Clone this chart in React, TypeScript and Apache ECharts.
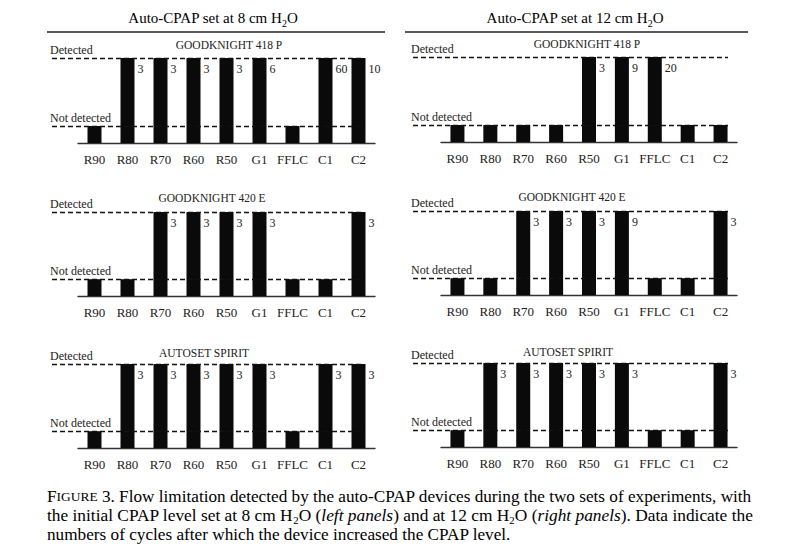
import React, { useEffect, useRef } from "react";
import * as echarts from "echarts";

const categories = ["R90", "R80", "R70", "R60", "R50", "G1", "FFLC", "C1", "C2"];
const levelNames = ["Detected", "Not detected"];
const levelValues = [1, 0.2];
const D = 1;
const N = 0.2;

const gk418At8 = [N, D, D, D, D, D, N, D, D];
const gk418At8Cycles = [null, 3, 3, 3, 3, 6, null, 60, 10];
const gk418At12 = [N, N, N, N, D, D, D, N, N];
const gk418At12Cycles = [null, null, null, null, 3, 9, 20, null, null];
const gk420At8 = [N, N, D, D, D, D, N, N, D];
const gk420At8Cycles = [null, null, 3, 3, 3, 3, null, null, 3];
const gk420At12 = [N, N, D, D, D, D, N, N, D];
const gk420At12Cycles = [null, null, 3, 3, 3, 9, null, null, 3];
const autosetAt8 = [N, D, D, D, D, D, N, D, D];
const autosetAt8Cycles = [null, 3, 3, 3, 3, 3, null, 3, 3];
const autosetAt12 = [N, D, D, D, D, D, N, N, D];
const autosetAt12Cycles = [null, 3, 3, 3, 3, 3, null, null, 3];

const deviceNames = ["GOODKNIGHT 418 P", "GOODKNIGHT 420 E", "AUTOSET SPIRIT"];

const panels = [
  { col: 0, row: 0, levels: gk418At8, cycles: gk418At8Cycles },
  { col: 1, row: 0, levels: gk418At12, cycles: gk418At12Cycles },
  { col: 0, row: 1, levels: gk420At8, cycles: gk420At8Cycles },
  { col: 1, row: 1, levels: gk420At12, cycles: gk420At12Cycles },
  { col: 0, row: 2, levels: autosetAt8, cycles: autosetAt8Cycles },
  { col: 1, row: 2, levels: autosetAt12, cycles: autosetAt12Cycles },
];

const SERIF = "Liberation Serif";
const INK = "#111";
const TXT = "#222";

// layout
const colLayout = [
  { barLeft: 78, barRight: 375, dashLeft: 52, dashRight: 364, dy: 0 },
  { barLeft: 441, barRight: 737, dashLeft: 413, dashRight: 728, dy: -1 },
];
const rowTops = [58, 212, 364];
const rowBases = [143, 296, 448];
const subtitleX = [
  [229, 587],
  [212, 572],
  [204, 568],
];
const subtitleY = [45, 198, 353];

const serifRich = (size: number) => ({
  t: { fontSize: size, fontFamily: SERIF, color: TXT },
});

export default function App() {
  const ref = useRef<HTMLDivElement>(null);
  useEffect(() => {
    if (!ref.current) return;
    const chart = echarts.init(ref.current, null, { renderer: "svg" });
    const grids: any[] = [];
    const xAxes: any[] = [];
    const yAxes: any[] = [];
    const series: any[] = [];
    const graphics: any[] = [];

    panels.forEach((p) => {
      const c = colLayout[p.col];
      const top = rowTops[p.row] + c.dy;
      const base = rowBases[p.row] + c.dy;
      // dashed reference grid
      const gi = grids.length;
      grids.push({ left: c.dashLeft, width: c.dashRight - c.dashLeft, top, height: base - top });
      xAxes.push({ gridIndex: gi, type: "value", min: 0, max: 1, show: false });
      yAxes.push({ gridIndex: gi, type: "value", min: 0, max: 1, show: false });
      series.push({
        type: "line",
        xAxisIndex: gi,
        yAxisIndex: gi,
        data: [],
        z: 1,
        silent: true,
        markLine: {
          silent: true,
          symbol: "none",
          lineStyle: { type: [5, 3], width: 1.4, color: INK },
          label: {
            show: true,
            position: "insideStartTop",
            formatter: "{t|{b}}",
            rich: serifRich(12),
            distance: [-2, 2],
            color: TXT,
            fontSize: 12,
            fontFamily: SERIF,
          },
          data: levelValues.map((v, i) => ({ yAxis: v, name: levelNames[i] })),
        },
      });
      // bars grid
      const bi = grids.length;
      grids.push({ left: c.barLeft, width: c.barRight - c.barLeft, top, height: base - top });
      xAxes.push({
        gridIndex: bi,
        type: "category",
        data: categories,
        axisLine: { lineStyle: { color: "#333", width: 1.4 } },
        axisTick: { show: false },
        axisLabel: {
          interval: 0,
          color: TXT,
          fontSize: 13,
          fontFamily: SERIF,
          margin: 10,
          formatter: (v: string) => `{t|${v}}`,
          rich: serifRich(13),
        },
      });
      yAxes.push({ gridIndex: bi, type: "value", min: 0, max: 1, show: false });
      series.push({
        type: "bar",
        xAxisIndex: bi,
        yAxisIndex: bi,
        barWidth: 14,
        z: 2,
        itemStyle: { color: "#0a0a0a" },
        data: p.levels.map((v, i) => ({
          value: v,
          label: {
            show: p.cycles[i] != null,
            formatter: `{t|${p.cycles[i] ?? ""}}`,
          },
        })),
        label: {
          position: [17, 5],
          align: "left",
          verticalAlign: "top",
          color: TXT,
          fontSize: 12,
          fontFamily: SERIF,
          rich: serifRich(12),
        },
      });
      graphics.push({
        type: "text",
        style: {
          text: deviceNames[p.row],
          x: subtitleX[p.row][p.col],
          y: subtitleY[p.row] + c.dy,
          textAlign: "center",
          textVerticalAlign: "middle",
          fill: TXT,
          font: `11.5px ${SERIF}`,
        },
      });
    });

    const titleRich = {
      a: { fontSize: 15, fontFamily: SERIF, color: TXT, lineHeight: 20 },
      s: { fontSize: 10, fontFamily: SERIF, color: TXT, lineHeight: 10, verticalAlign: "bottom" },
    };
    graphics.push(
      {
        type: "text",
        style: {
          text: "{a|Auto-CPAP set at 8 cm H}{s|2}{a|O}",
          rich: titleRich,
          x: 213,
          y: 18,
          textAlign: "center",
          textVerticalAlign: "middle",
        },
      },
      {
        type: "text",
        style: {
          text: "{a|Auto-CPAP set at 12 cm H}{s|2}{a|O}",
          rich: titleRich,
          x: 575,
          y: 18,
          textAlign: "center",
          textVerticalAlign: "middle",
        },
      },
      { type: "line", shape: { x1: 47, y1: 32, x2: 385, y2: 32 }, style: { stroke: TXT, lineWidth: 1.5 } },
      { type: "line", shape: { x1: 405, y1: 32, x2: 748, y2: 32 }, style: { stroke: TXT, lineWidth: 1.5 } }
    );

    const capRich = {
      n: { fontSize: 16, fontFamily: SERIF, color: TXT, lineHeight: 19 },
      i: { fontSize: 16, fontFamily: SERIF, color: TXT, lineHeight: 19, fontStyle: "italic" },
      f: { fontSize: 16, fontFamily: SERIF, color: TXT, lineHeight: 19 },
      c: { fontSize: 12.5, fontFamily: SERIF, color: TXT, lineHeight: 19 },
      s: { fontSize: 10, fontFamily: SERIF, color: TXT, lineHeight: 9, verticalAlign: "bottom" },
    };
    const captionLines = [
      "{f|F}{c|IGURE}{n| 3. Flow limitation detected by the auto-CPAP devices during the two sets of experiments, with}",
      "{n|the initial CPAP level set at 8 cm H}{s|2}{n|O (}{i|left panels}{n|) and at 12 cm H}{s|2}{n|O (}{i|right panels}{n|). Data indicate the}",
      "{n|numbers of cycles after which the device increased the CPAP level.}",
    ];
    const captionScale = [1.075, 1.085, 1.075];
    captionLines.forEach((t, i) => {
      graphics.push({
        type: "text",
        x: 47,
        y: 497 + i * 19,
        scaleX: captionScale[i],
        style: { text: t, rich: capRich, x: 0, y: 0, textAlign: "left", textVerticalAlign: "middle" },
      });
    });

    chart.setOption({
      animation: false,
      backgroundColor: "#fff",
      textStyle: { fontFamily: SERIF },
      grid: grids,
      xAxis: xAxes,
      yAxis: yAxes,
      series,
      graphic: graphics,
    });
    return () => chart.dispose();
  }, []);
  return <div ref={ref} style={{ position: "absolute", left: 0, top: 0, width: 800, height: 554 }} />;
}
